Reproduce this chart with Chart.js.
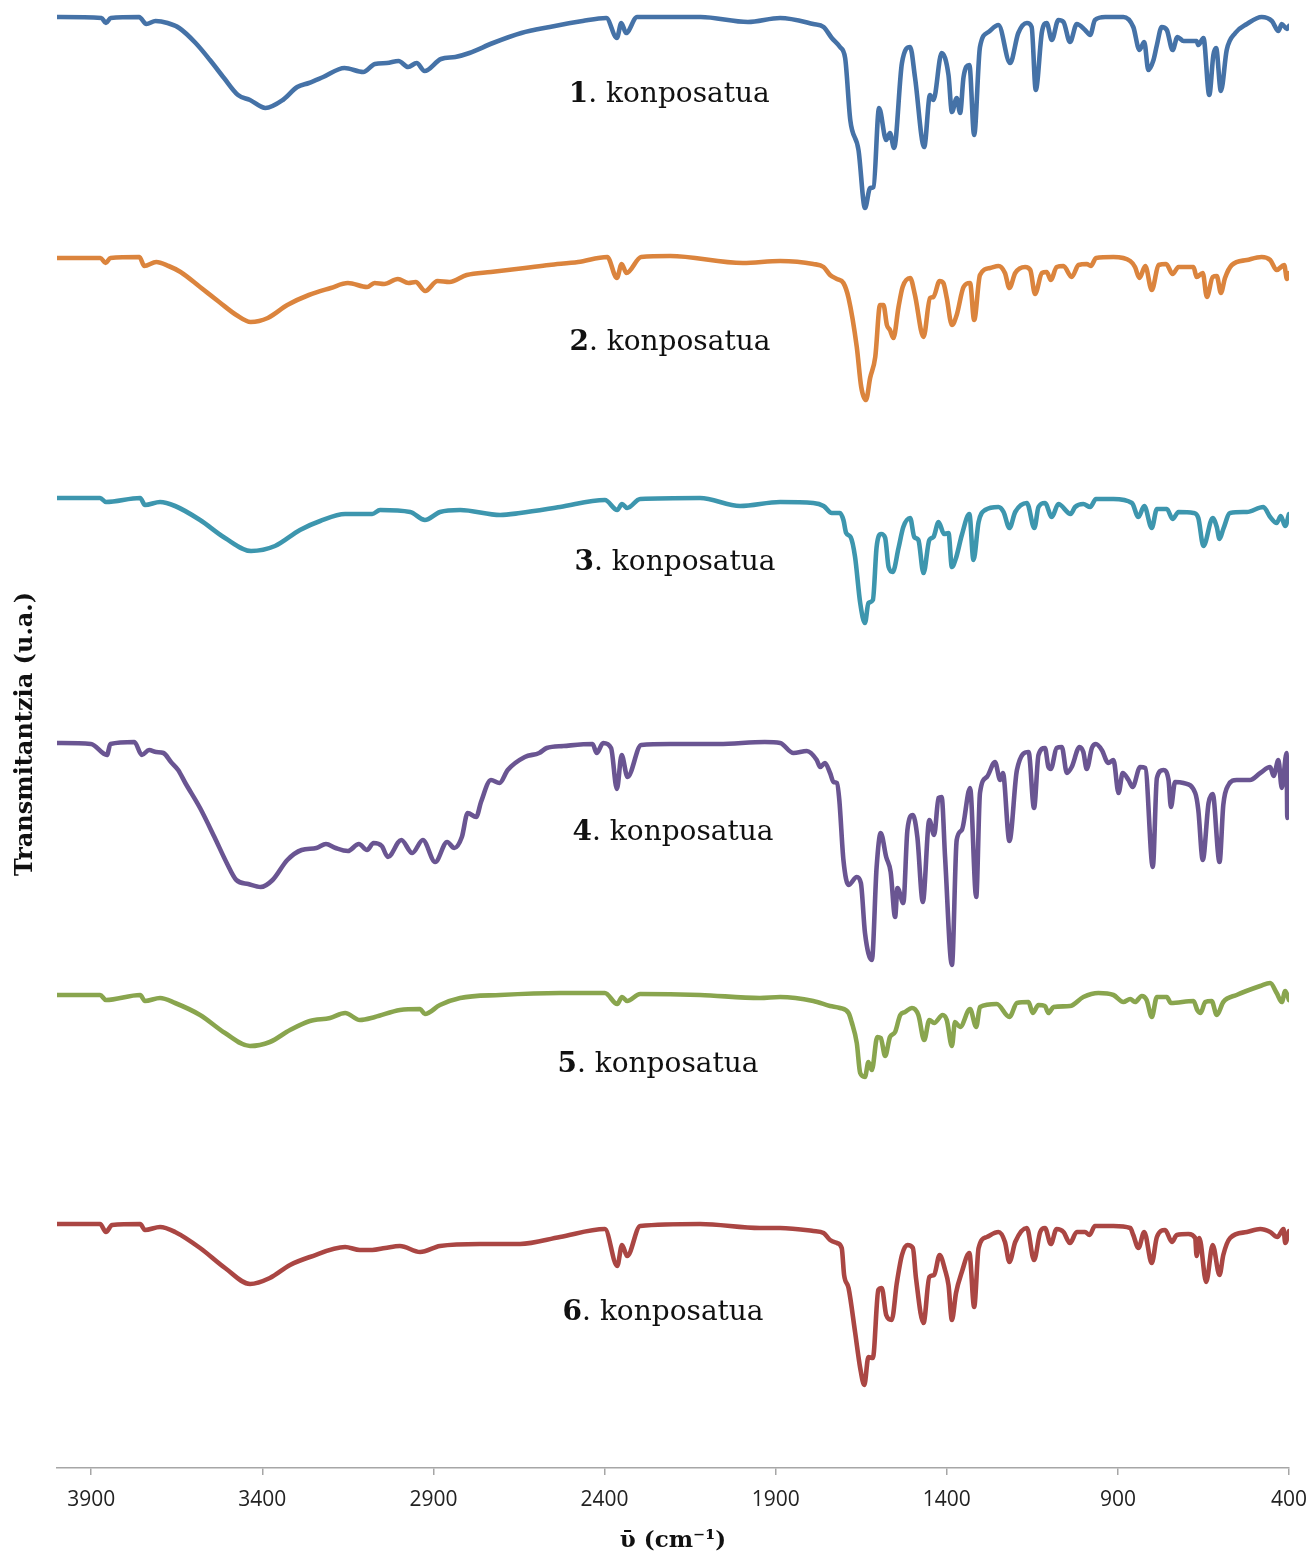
<!DOCTYPE html>
<html>
<head>
<meta charset="utf-8">
<script src="https://cdn.jsdelivr.net/npm/chart.js@4.4.1/dist/chart.umd.min.js"></script>
<style>
  html, body { margin: 0; padding: 0; background: #fff; }
  #wrap { width: 1312px; height: 1557px; }
</style>
</head>
<body>
<div id="wrap"><canvas id="irChart" width="1312" height="1557"></canvas></div>
<script>
// wavenumber ticks (cm-1), axis runs high -> low
const tickValues = [3900, 3400, 2900, 2400, 1900, 1400, 900, 400];

const compoundNumbers = ["1", "2", "3", "4", "5", "6"];
const compoundColors = ["#4572A7", "#DB843D", "#3D96AE", "#6A5592", "#89A54E", "#AA4643"];

// each spectrum: [wavenumber, transmittance (stacked, arbitrary units)]
const spectrum1 = [
  [4000,145.1],[3870,145.0],[3857,144.5],[3843,145.0],[3760,145.1],[3739,144.4],[3712,144.7],[3677,144.5],[3643,144.0],[3595,142.5],
  [3553,140.8],[3512,139.0],[3471,137.3],[3436,136.8],[3391,136.0],[3340,136.8],[3298,138.1],[3264,138.5],[3222,139.1],[3160,140.0],
  [3105,139.6],[3071,140.4],[3036,140.5],[3002,140.7],[2974,140.1],[2949,140.5],[2926,139.7],[2878,140.9],[2836,141.1],[2795,141.5],
  [2726,142.5],[2643,143.5],[2560,144.1],[2464,144.7],[2395,145.0],[2364,143.0],[2351,144.5],[2337,143.5],[2305,145.1],[2119,145.1],
  [1981,144.6],[1887,145.0],[1790,144.4],[1760,144.1],[1736,143.0],[1712,142.1],[1697,141.0],[1682,134.8],[1658,131.8],[1639,126.0],
  [1624,128.0],[1614,128.1],[1598,136.0],[1577,132.8],[1566,133.5],[1554,132.0],[1531,140.5],[1507,142.1],[1493,139.1],[1466,132.1],
  [1449,137.3],[1439,136.8],[1415,141.5],[1395,139.3],[1385,135.6],[1371,137.0],[1361,135.5],[1351,139.1],[1334,140.3],[1320,133.3],
  [1303,142.1],[1278,143.6],[1249,144.3],[1215,140.5],[1191,143.5],[1166,144.5],[1152,144.1],[1140,137.8],[1122,143.6],[1108,144.5],
  [1093,142.8],[1074,144.8],[1059,144.6],[1040,142.6],[1020,144.4],[996,143.8],[981,143.3],[967,144.8],[937,145.1],[884,145.1],
  [855,144.1],[837,141.8],[823,142.6],[811,139.8],[796,140.8],[786,142.3],[772,144.1],[757,143.8],[740,141.8],[726,143.1],
  [708,142.7],[670,142.7],[665,142.3],[650,143.0],[633,137.3],[621,141.3],[613,142.0],[599,137.7],[582,141.8],[557,143.5],
  [523,144.4],[480,145.1],[450,144.7],[431,143.7],[421,144.4],[406,143.9],[400,144.2]
];

const spectrum2 = [
  [4000,121.0],[3873,121.0],[3858,120.5],[3844,121.0],[3759,121.1],[3745,120.2],[3710,120.6],[3674,120.2],[3639,119.6],[3582,118.1],
  [3526,116.6],[3476,115.3],[3434,114.6],[3384,115.0],[3327,116.3],[3264,117.3],[3200,118.0],[3150,118.5],[3094,118.1],[3072,118.5],
  [3044,118.4],[3004,118.9],[2973,118.5],[2952,118.6],[2924,117.7],[2888,118.7],[2853,118.6],[2803,119.3],[2732,119.6],[2633,120.0],
  [2562,120.3],[2477,120.6],[2392,121.1],[2364,119.0],[2350,120.4],[2336,119.5],[2293,121.1],[2208,121.2],[1996,120.5],[1887,120.7],
  [1790,120.4],[1760,120.1],[1741,119.3],[1721,118.9],[1702,118.5],[1687,117.0],[1663,112.1],[1650,108.1],[1636,106.8],[1624,109.0],
  [1609,111.1],[1595,116.3],[1585,116.3],[1575,114.3],[1566,113.8],[1556,113.0],[1541,116.1],[1529,118.1],[1507,119.0],[1493,117.3],
  [1468,113.1],[1449,117.0],[1439,117.1],[1421,118.7],[1410,118.5],[1400,117.0],[1385,114.3],[1371,115.3],[1351,118.1],[1332,118.5],
  [1320,114.8],[1303,119.3],[1273,120.0],[1249,120.2],[1230,119.5],[1217,118.0],[1200,119.5],[1171,120.1],[1156,119.8],[1142,117.4],
  [1122,119.5],[1108,119.6],[1096,118.8],[1079,120.1],[1059,120.2],[1035,119.1],[1015,120.3],[991,120.4],[979,120.2],[964,121.0],
  [913,121.1],[864,120.7],[850,120.1],[837,119.0],[820,120.2],[801,117.8],[781,120.3],[759,120.4],[740,119.4],[723,120.1],
  [679,120.1],[670,119.1],[652,119.5],[640,117.1],[623,119.1],[611,119.2],[599,117.5],[587,119.0],[567,120.3],[523,120.8],
  [480,121.1],[455,120.8],[436,119.8],[414,120.3],[406,118.9],[400,119.5]
];

const spectrum3 = [
  [4000,97.0],[3874,97.0],[3857,96.6],[3757,97.0],[3743,96.3],[3699,96.6],[3655,96.2],[3582,94.8],[3509,93.0],[3433,91.7],
  [3363,92.2],[3290,93.8],[3231,94.7],[3158,95.4],[3079,95.4],[3056,95.8],[2968,95.6],[2925,94.8],[2881,95.6],[2822,95.8],
  [2705,95.3],[2647,95.5],[2530,96.1],[2399,96.8],[2363,95.8],[2349,96.4],[2334,96.0],[2296,96.9],[2121,97.0],[2004,96.2],
  [1887,96.6],[1790,96.5],[1760,96.2],[1736,95.5],[1712,95.5],[1702,94.8],[1694,93.5],[1681,93.1],[1668,91.1],[1653,86.5],
  [1639,84.5],[1629,86.5],[1616,86.8],[1605,92.1],[1592,93.4],[1580,93.0],[1570,90.1],[1558,89.6],[1541,92.0],[1527,94.1],
  [1507,95.0],[1495,93.1],[1483,92.8],[1468,89.5],[1451,92.8],[1439,93.1],[1424,94.6],[1408,93.4],[1395,93.5],[1385,90.1],
  [1373,91.0],[1356,93.3],[1334,95.4],[1322,90.8],[1307,94.6],[1288,95.8],[1249,96.1],[1234,95.6],[1217,94.0],[1200,95.6],
  [1166,96.5],[1144,94.0],[1132,96.1],[1113,96.5],[1093,95.1],[1074,96.4],[1038,95.4],[1025,96.1],[1001,96.4],[981,96.1],
  [964,96.9],[913,96.9],[859,96.5],[840,95.1],[823,96.2],[801,94.0],[786,95.9],[757,95.9],[740,94.9],[723,95.6],
  [679,95.5],[665,95.0],[650,92.2],[623,95.0],[611,94.1],[603,92.9],[592,93.9],[572,95.5],[523,95.6],[475,96.1],
  [455,95.1],[436,94.5],[424,95.2],[411,94.2],[400,95.4]
];

const spectrum4 = [
  [4000,72.5],[3901,72.4],[3854,71.3],[3844,72.4],[3774,72.6],[3752,71.3],[3731,71.8],[3710,71.6],[3689,71.5],[3667,70.6],
  [3646,69.8],[3625,68.5],[3582,66.0],[3540,63.1],[3504,60.5],[3476,58.8],[3441,58.4],[3405,58.1],[3370,58.8],[3327,60.8],
  [3285,61.8],[3242,62.0],[3214,62.4],[3186,62.0],[3150,61.7],[3118,62.4],[3094,61.8],[3075,62.5],[3051,62.2],[3033,61.1],
  [2994,62.8],[2962,61.5],[2931,62.8],[2895,60.6],[2860,62.6],[2839,62.0],[2817,63.1],[2800,65.5],[2775,65.1],[2761,66.6],
  [2732,68.8],[2707,68.5],[2683,69.8],[2633,71.1],[2591,71.5],[2569,72.0],[2520,72.2],[2435,72.4],[2423,71.5],[2404,72.5],
  [2381,72.0],[2364,67.9],[2350,71.3],[2333,69.1],[2293,72.3],[2208,72.4],[2066,72.4],[1932,72.6],[1887,72.5],[1848,71.5],
  [1809,71.7],[1780,70.8],[1770,70.1],[1756,70.5],[1741,69.5],[1731,68.6],[1721,68.5],[1714,66.8],[1702,60.8],[1687,58.3],
  [1663,59.1],[1651,58.5],[1639,53.5],[1619,50.8],[1605,60.1],[1593,63.5],[1577,61.1],[1564,59.6],[1551,55.1],[1544,58.0],
  [1527,56.5],[1515,63.8],[1499,65.3],[1486,63.1],[1470,56.6],[1451,64.8],[1437,63.3],[1424,67.0],[1415,67.1],[1405,61.1],
  [1385,50.3],[1371,62.8],[1356,63.8],[1332,68.0],[1314,57.1],[1303,67.5],[1283,69.1],[1259,70.6],[1244,68.8],[1236,69.5],
  [1217,62.7],[1195,69.8],[1161,71.6],[1145,66.0],[1132,71.3],[1113,72.0],[1103,70.1],[1096,69.9],[1079,72.0],[1064,72.1],
  [1049,69.5],[1035,70.1],[1012,72.1],[1001,71.6],[991,69.9],[976,72.0],[964,72.4],[947,71.8],[928,70.5],[913,70.8],
  [898,67.5],[886,69.5],[869,68.8],[857,68.1],[835,70.1],[820,70.0],[798,60.1],[786,69.0],[767,69.8],[752,68.8],
  [745,66.1],[733,68.6],[708,68.5],[674,67.5],[665,65.8],[652,60.8],[635,66.5],[623,67.4],[603,60.6],[592,66.3],
  [577,68.3],[553,68.8],[514,68.8],[484,69.5],[455,70.1],[445,69.2],[431,70.8],[421,68.0],[407,71.5],[405,65.0],
  [400,70.5]
];

const spectrum5 = [
  [4000,47.3],[3874,47.3],[3857,46.8],[3757,47.3],[3743,46.7],[3699,47.0],[3655,46.5],[3582,45.3],[3509,43.5],[3436,42.2],
  [3378,42.6],[3319,43.8],[3261,44.7],[3202,45.0],[3158,45.5],[3115,44.8],[3071,45.1],[2998,45.8],[2939,45.9],[2925,45.4],
  [2881,46.3],[2822,47.0],[2705,47.3],[2530,47.5],[2399,47.5],[2363,46.4],[2349,47.1],[2334,46.7],[2296,47.4],[2121,47.3],
  [1946,47.0],[1887,47.1],[1790,46.7],[1741,46.2],[1712,46.0],[1687,45.5],[1678,44.6],[1663,42.5],[1653,39.5],[1639,39.1],
  [1629,40.6],[1619,39.8],[1603,43.1],[1593,43.0],[1580,41.2],[1566,43.1],[1551,43.6],[1536,45.3],[1522,45.6],[1502,46.0],
  [1483,45.3],[1466,42.8],[1451,44.8],[1437,44.5],[1412,45.3],[1400,44.8],[1385,42.2],[1376,44.6],[1361,44.1],[1332,45.9],
  [1314,44.1],[1303,46.1],[1254,46.4],[1217,45.1],[1195,46.5],[1161,46.6],[1149,45.5],[1132,46.3],[1113,46.2],[1103,45.5],
  [1088,46.1],[1040,46.2],[1001,47.1],[957,47.5],[913,47.3],[884,46.6],[864,46.9],[850,46.6],[830,47.2],[816,46.8],
  [801,45.1],[786,47.1],[757,47.1],[745,46.5],[679,46.7],[668,45.8],[658,45.5],[645,46.6],[626,46.7],[611,45.3],
  [592,46.6],[553,47.3],[484,48.2],[455,48.5],[436,47.5],[421,46.6],[411,47.7],[400,46.8]
];

const spectrum6 = [
  [4000,24.4],[3874,24.4],[3857,23.6],[3839,24.3],[3757,24.4],[3743,23.8],[3699,24.1],[3655,23.6],[3582,22.0],[3509,20.0],
  [3436,18.4],[3378,19.0],[3319,20.3],[3261,21.1],[3158,22.1],[3115,21.8],[3079,21.8],[3041,22.0],[2998,22.2],[2939,21.6],
  [2881,22.2],[2764,22.4],[2647,22.4],[2530,23.1],[2399,23.9],[2363,20.2],[2349,22.3],[2334,21.2],[2296,24.2],[2121,24.4],
  [1946,24.0],[1887,24.0],[1790,23.7],[1760,23.5],[1741,22.8],[1721,22.5],[1707,22.0],[1700,19.3],[1687,18.0],[1668,13.6],
  [1653,10.0],[1641,8.3],[1629,11.1],[1616,11.0],[1600,17.8],[1590,18.0],[1577,15.3],[1561,14.8],[1546,18.5],[1531,21.3],
  [1515,22.3],[1499,22.0],[1490,19.0],[1468,14.5],[1451,19.1],[1437,19.3],[1421,21.3],[1405,19.8],[1395,18.3],[1385,14.8],
  [1373,17.5],[1356,19.6],[1334,21.5],[1320,16.1],[1307,22.0],[1283,23.1],[1249,23.6],[1230,22.6],[1217,20.6],[1200,22.6],
  [1166,24.0],[1145,20.8],[1127,23.6],[1113,24.0],[1096,22.4],[1079,23.9],[1059,23.6],[1040,22.5],[1020,23.6],[996,23.6],
  [983,23.3],[967,24.2],[913,24.2],[864,24.0],[855,23.3],[840,22.0],[823,23.6],[801,20.5],[786,23.1],[762,23.8],
  [742,22.6],[728,23.3],[694,23.4],[674,23.0],[670,21.2],[662,23.0],[642,18.6],[623,22.3],[603,19.3],[592,21.3],
  [572,23.0],[523,23.6],[484,23.9],[455,23.6],[434,23.1],[416,23.9],[411,22.5],[400,23.7]
];

const spectra = [spectrum1, spectrum2, spectrum3, spectrum4, spectrum5, spectrum6];

// where each "N. konposatua" caption sits: [wavenumber, value]
const captionAnchors = [[2211,137.3],[2209,112.5],[2194,90.5],[2200,63.5],[2244,40.3],[2229,15.5]];

const captionPlugin = {
  id: "captions",
  afterDatasetsDraw(chart) {
    const ctx = chart.ctx;
    const xs = chart.scales.x, ys = chart.scales.y;
    const boldFont = "bold 28px 'DejaVu Serif'";
    const plainFont = "28px 'DejaVu Serif'";
    ctx.save();
    ctx.textBaseline = "middle";
    ctx.textAlign = "left";
    ctx.fillStyle = "#111";
    captionAnchors.forEach((a, i) => {
      const cx = xs.getPixelForValue(a[0]);
      const cy = ys.getPixelForValue(a[1]);
      const num = compoundNumbers[i];
      const rest = ". konposatua";
      ctx.font = boldFont;
      const w1 = ctx.measureText(num).width;
      ctx.font = plainFont;
      const w2 = ctx.measureText(rest).width;
      const left = cx - (w1 + w2) / 2;
      ctx.font = boldFont;
      ctx.fillText(num, left, cy);
      ctx.font = plainFont;
      ctx.fillText(rest, left + w1, cy);
    });
    ctx.restore();
  }
};

const chart = new Chart(document.getElementById("irChart"), {
  type: "line",
  data: {
    datasets: spectra.map((s, i) => ({
      label: compoundNumbers[i] + ". konposatua",
      data: s.map(p => ({ x: p[0], y: p[1] })),
      borderColor: compoundColors[i],
      borderWidth: 4.6,
      borderJoinStyle: "round",
      borderCapStyle: "round",
      pointRadius: 0,
      cubicInterpolationMode: "monotone",
      fill: false
    }))
  },
  options: {
    responsive: false,
    animation: false,
    devicePixelRatio: 1,
    layout: { padding: { top: 0, right: 23, bottom: 0, left: 0 } },
    plugins: {
      legend: { display: false },
      tooltip: { enabled: false }
    },
    scales: {
      x: {
        type: "linear",
        reverse: true,
        min: 400,
        max: 4000,
        afterBuildTicks: scale => { scale.ticks = tickValues.map(v => ({ value: v })); },
        afterFit: scale => {
          scale.height = 89;
          scale.paddingLeft = 0;
          scale.paddingRight = 0;
        },
        grid: { drawOnChartArea: false, drawTicks: true, tickLength: 7, color: "#A6A6A6", lineWidth: 1.5 },
        border: { color: "#A6A6A6", width: 1.5 },
        ticks: {
          autoSkip: false,
          maxRotation: 0,
          padding: 12,
          color: "#222",
          font: { family: "'Open Sans'", size: 21 },
          callback: v => String(v)
        },
        title: {
          display: true,
          text: "ῡ (cm⁻¹)",
          color: "#111",
          font: { family: "'DejaVu Serif'", size: 23, weight: "bold" },
          padding: { top: 0, bottom: 2 }
        }
      },
      y: {
        min: 0,
        max: 146.8,
        afterFit: scale => { scale.width = 57; },
        grid: { display: false },
        border: { display: false },
        ticks: { display: false },
        title: {
          display: true,
          text: "Transmitantzia (u.a.)",
          color: "#111",
          font: { family: "'DejaVu Serif'", size: 24, weight: "bold" },
          padding: { top: 11, bottom: 0 }
        }
      }
    }
  },
  plugins: [captionPlugin]
});
</script>
</body>
</html>
